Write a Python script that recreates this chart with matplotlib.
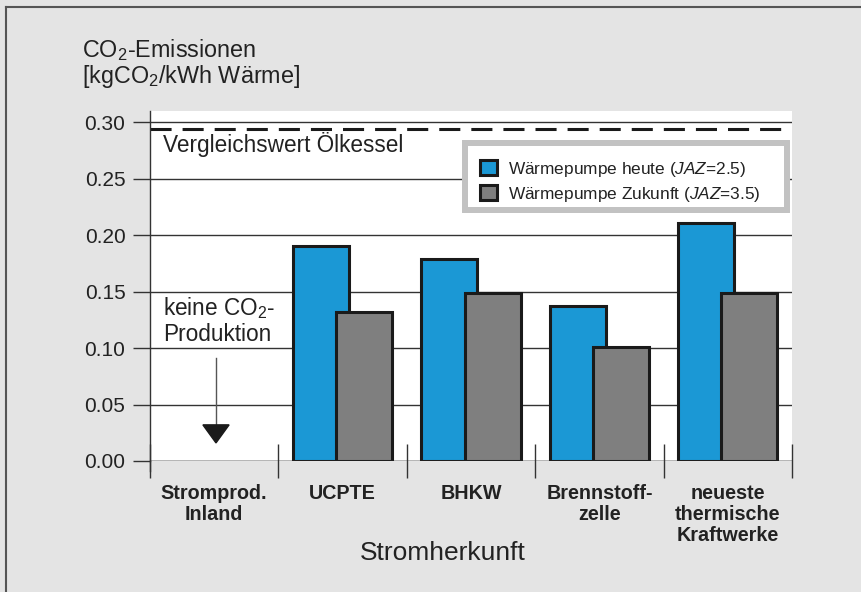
import numpy as np
import matplotlib
matplotlib.use('Agg')
import matplotlib.pyplot as plt
from matplotlib.lines import Line2D
from matplotlib.patches import Polygon, Rectangle

plt.rcParams['font.family'] = ['Liberation Sans', 'DejaVu Sans']
plt.rcParams['mathtext.fontset'] = 'custom'
plt.rcParams['mathtext.rm'] = 'Liberation Sans'
plt.rcParams['mathtext.it'] = 'Liberation Sans:italic'
plt.rcParams['mathtext.bf'] = 'Liberation Sans:bold'

# data
categories = ['Stromprod.\nInland', 'UCPTE', 'BHKW', 'Brennstoff-\nzelle',
              'neueste\nthermische\nKraftwerke']
heute = [np.nan, 0.190, 0.179, 0.137, 0.211]
zukunft = [np.nan, 0.132, 0.149, 0.101, 0.149]
oelkessel = 0.294
yticks = [0.00, 0.05, 0.10, 0.15, 0.20, 0.25, 0.30]

blue = '#1b98d5'
grey = '#7f7f7f'
bg = '#e4e4e4'
ink = '#333333'

fig = plt.figure(figsize=(8.62, 5.92), dpi=100, facecolor=bg)
ax = fig.add_axes([150/862, 1-461/592, 642/862, 350/592])
ax.set_facecolor('white')

x = np.arange(len(categories))
off = 0.168
w = 0.436

for v in yticks:
    ax.axhline(v, color=ink, lw=1.0, zorder=1)

ax.bar(x - off, heute, w, color=blue, edgecolor='#1a1a1a', lw=2.2, zorder=3,
       label='Wärmepumpe heute ($JAZ$=2.5)')
ax.bar(x + off, zukunft, w, color=grey, edgecolor='#1a1a1a', lw=2.2, zorder=4,
       label='Wärmepumpe Zukunft ($JAZ$=3.5)')

ax.axhline(oelkessel, color='#1a1a1a', lw=2.2, linestyle=(0, (6.9, 3.6)), zorder=2)
ax.text(-0.4, 0.2735, 'Vergleichswert Ölkessel', fontsize=16.3, color='#222222',
        va='baseline', ha='left', zorder=5)

# no CO2 note with arrow
ax.text(-0.4, 0.1062, 'keine CO$_2$-\nProduktion', fontsize=16.3, color='#222222',
        va='baseline', ha='left', linespacing=1.1, zorder=5)
ax.plot([0.014, 0.014], [0.091, 0.03], color='#555555', lw=1.0, zorder=5)
ax.add_patch(Polygon([[-0.088, 0.032], [0.116, 0.032], [0.014, 0.016]],
                     closed=True, color='#1a1a1a', zorder=5))

ax.set_xlim(-0.5, len(categories) - 0.5)
ax.set_ylim(0, 0.31)

for s in ['top', 'right', 'bottom']:
    ax.spines[s].set_visible(False)
ax.spines['left'].set_color(ink)
ax.spines['left'].set_linewidth(1.0)
ax.spines['left'].set_zorder(6)

ax.set_yticks(yticks)
ax.set_yticklabels(['%.2f' % v for v in yticks])
ax.tick_params(axis='y', direction='out', length=12.2, width=1.0, color=ink,
               pad=5.5, labelsize=15, labelcolor='#222222')

ax.set_xticks(np.arange(len(categories) + 1) - 0.5)
ax.set_xticklabels([])
ax.tick_params(axis='x', which='major', direction='inout', length=24.5,
               width=1.0, color=ink)
ax.set_xticks(x, minor=True)
ax.set_xticklabels(categories, minor=True, fontsize=14.2, fontweight='bold',
                   color='#222222', linespacing=1.15)
ax.tick_params(axis='x', which='minor', length=0, pad=16.5)
ax.axhline(0, color=ink, lw=1.0, zorder=6)
ax.plot([-0.5, -0.5], [0, -0.009], color=ink, lw=1.0, clip_on=False)

# legend box with a grey bevel, drawn by hand
ax.add_patch(Rectangle((0.4907, 0.7171), 0.5016, 0.1914, transform=ax.transAxes,
                       facecolor='white', edgecolor='#c2c2c2', lw=4.3, zorder=9))
leg = ax.legend(loc='upper left', bbox_to_anchor=(0.514, 0.861),
                borderaxespad=0, fontsize=12.4, handlelength=1.0,
                handleheight=1.0, handletextpad=0.62, labelspacing=0.35,
                borderpad=0, frameon=False)
for t in leg.get_texts():
    t.set_color('#222222')
leg.set_zorder(10)

fig.text(82/862, 1-57/592, 'CO$_2$-Emissionen', fontsize=16.8, color='#222222',
         va='baseline', ha='left')
fig.text(82/862, 1-83/592, '[kgCO$_2$/kWh Wärme]', fontsize=16.8,
         color='#222222', va='baseline', ha='left')
fig.text(443/862, 1-553/592, 'Stromherkunft', fontsize=19, color='#222222',
         va='center', ha='center')

# frame lines of the scanned figure
fig.add_artist(Line2D([6/862, 6/862], [0, 1-7/592], color='#555555', lw=1.5))
fig.add_artist(Line2D([6/862, 1], [1-7/592, 1-7/592], color='#555555', lw=1.5))

fig.savefig('out.png', dpi=100, facecolor=bg)
